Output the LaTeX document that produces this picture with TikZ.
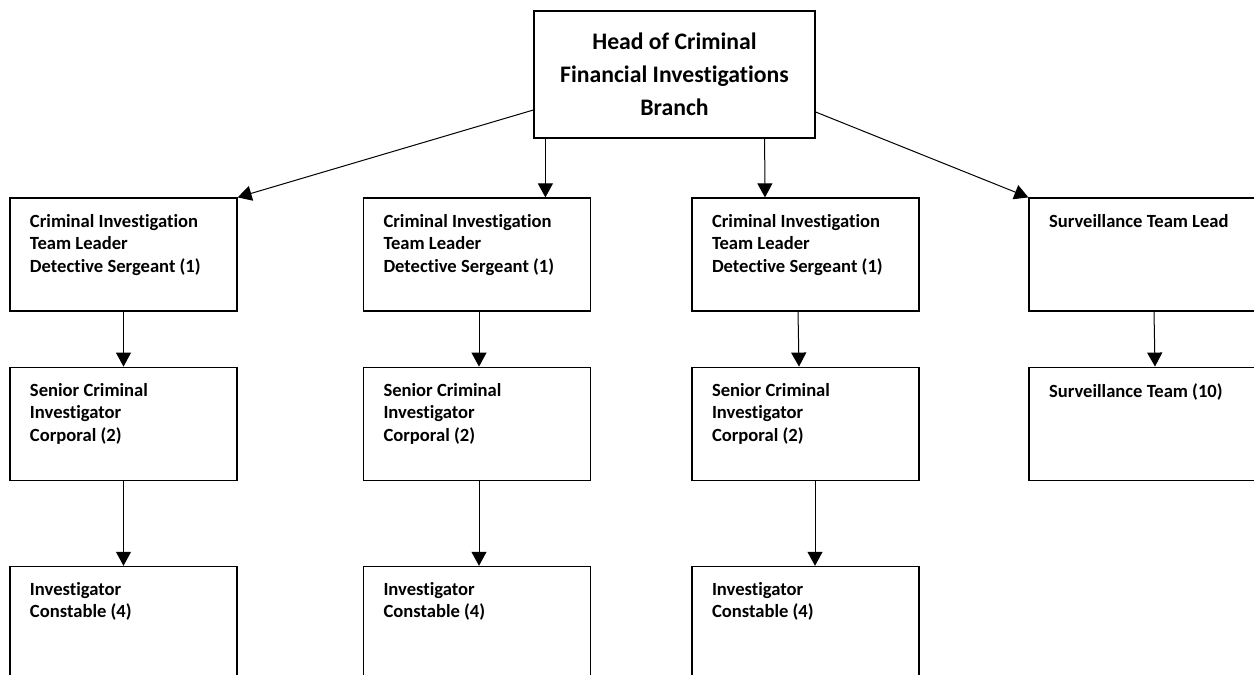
\documentclass[tikz,border=0pt]{standalone}
\usepackage{fontspec}
\setmainfont{Carlito}[Ligatures=NoCommon, RawFeature={-clig}]
\usetikzlibrary{positioning,arrows.meta}
\newcommand{\unittext}[1]{\parbox[c][81pt][t]{187pt}{\raggedright #1}}

\begin{document}
\begin{tikzpicture}[x=1pt, y=1pt,
    unit/.style={draw, black, line width=1.2pt, rectangle, inner xsep=20pt, inner ysep=16pt,
        font=\fontsize{18.6}{22.5}\selectfont\bfseries},
    headbox/.style={draw, black, line width=1.2pt, rectangle, minimum width=281pt, minimum height=127pt,
        align=center, font=\fontsize{23.7}{33}\selectfont\bfseries},
    link/.style={black, line width=1pt, -{Triangle[length=14pt, width=15pt]}}]
            \useasboundingbox (0,0) rectangle (1254,675);
            \clip (0,0) rectangle (1254,675);

            \node[headbox] (head) at (674.5,600.5) {Head of Criminal\\Financial Investigations\\Branch};

            \node[unit] (lead1) at (123.5,420.5) {\unittext{Criminal Investigation\\Team Leader\\Detective Sergeant (1)}};
            \node[unit] (lead2) at (477,420.5) {\unittext{Criminal Investigation\\Team Leader\\Detective Sergeant (1)}};
            \node[unit] (lead3) at (805.5,420.5) {\unittext{Criminal Investigation\\Team Leader\\Detective Sergeant (1)}};
            \node[unit] (lead4) at (1142.5,420.5) {\unittext{Surveillance Team Lead}};

            \node[unit, below=55pt of lead1] (senior1) {\unittext{Senior Criminal\\Investigator\\Corporal (2)}};
            \node[unit, below=55pt of lead2] (senior2) {\unittext{Senior Criminal\\Investigator\\Corporal (2)}};
            \node[unit, below=55pt of lead3] (senior3) {\unittext{Senior Criminal\\Investigator\\Corporal (2)}};
            \node[unit, below=55pt of lead4] (team4) {\unittext{Surveillance Team (10)}};

            \node[unit, below=85pt of senior1] (inv1) {\unittext{Investigator\\Constable (4)}};
            \node[unit, below=85pt of senior2] (inv2) {\unittext{Investigator\\Constable (4)}};
            \node[unit, below=85pt of senior3] (inv3) {\unittext{Investigator\\Constable (4)}};

            \draw[link] ([yshift=-35.5pt]head.west) -- (lead1.north east);
            \draw[link] ([xshift=12pt]head.south west) -- ([xshift=12pt]head.south west |- lead2.north);
            \draw[link] ([xshift=-51pt]head.south east) -- ([xshift=-40.5pt]lead3.north);
            \draw[link] ([yshift=-37.5pt]head.east) -- (lead4.north west);

            \draw[link] (lead1.south) -- (senior1.north);
            \draw[link] (senior1.south) -- (inv1.north);
            \draw[link] ([xshift=2pt]lead2.south) -- ([xshift=2pt]senior2.north);
            \draw[link] ([xshift=2pt]senior2.south) -- ([xshift=2pt]inv2.north);
            \draw[link] ([xshift=-7.5pt]lead3.south) -- ([xshift=-6.5pt]senior3.north);
            \draw[link] ([xshift=9.5pt]senior3.south) -- ([xshift=9.5pt]inv3.north);
            \draw[link] ([xshift=11.5pt]lead4.south) -- ([xshift=12.5pt]team4.north);
        \end{tikzpicture}
\end{document}
